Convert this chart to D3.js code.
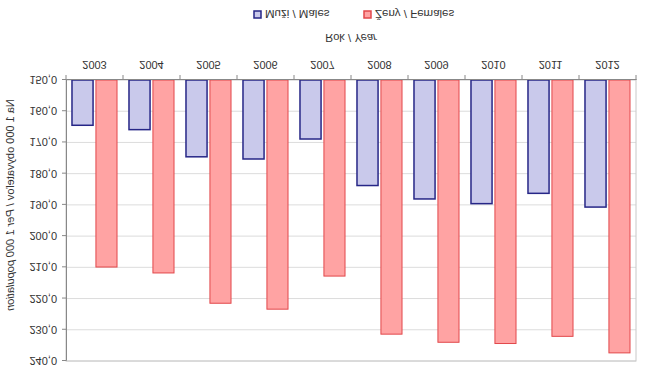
<!DOCTYPE html>
<html>
<head>
<meta charset="utf-8">
<script src="https://cdn.jsdelivr.net/npm/d3@7"></script>
<style>
	body { margin: 0; background: #fff; }
	/* the reference picture is mirrored top to bottom */
	#chart { transform: scaleY(-1); display: block; }
	text { font-family: "Liberation Sans", Arial, sans-serif; fill: #333; }
</style>
</head>
<body>
<svg id="chart" width="666" height="373"></svg>
<script>
var years = ["2003", "2004", "2005", "2006", "2007", "2008", "2009", "2010", "2011", "2012"];
var males = [164.5, 165.9, 174.6, 175.3, 168.9, 183.8, 188.1, 189.6, 186.3, 190.7];
var females = [209.9, 211.8, 221.5, 223.4, 212.8, 231.4, 234.0, 234.4, 232.1, 237.4];
var seriesKeys = ["m", "f"];
var seriesLabels = ["Muži / Males", "Ženy / Females"];
var yTicks = d3.range(150, 241, 10);

var width = 666, height = 373;
var margin = {top: 12, right: 30, bottom: 80, left: 66};

var svg = d3.select("#chart");

var x0 = d3.scaleBand()
	.domain(years)
	.range([margin.left, width - margin.right]);

var x1 = d3.scaleBand()
	.domain(seriesKeys)
	.range([0, x0.bandwidth()])
	.paddingInner(0.12)
	.paddingOuter(0.25);

var y = d3.scaleLinear()
	.domain([150, 240])
	.range([height - margin.bottom, margin.top]);

var fills = {m: "#c9c9eb", f: "#ffa3a3"};
var strokes = {m: "#262687", f: "#e2474a"};

//Gridlines
svg.append("g")
	.selectAll("line")
	.data(yTicks.slice(1))
	.enter().append("line")
	.attr("x1", margin.left)
	.attr("x2", width - margin.right)
	.attr("y1", function(d){ return y(d); })
	.attr("y2", function(d){ return y(d); })
	.attr("stroke", "#dcdcdc")
	.attr("stroke-width", 1);

//Plot border
svg.append("rect")
	.attr("x", margin.left)
	.attr("y", margin.top)
	.attr("width", width - margin.left - margin.right)
	.attr("height", height - margin.top - margin.bottom)
	.attr("fill", "none")
	.attr("stroke", "#c8c8c8");

//Bars
var rows = years.map(function(yr, i){
	return {year: yr, m: males[i], f: females[i]};
});

var groups = svg.append("g")
	.selectAll("g")
	.data(rows)
	.enter().append("g")
	.attr("transform", function(d){ return "translate(" + x0(d.year) + ",0)"; });

groups.selectAll("rect")
	.data(function(d){ return seriesKeys.map(function(k){ return {key: k, val: d[k]}; }); })
	.enter().append("rect")
	.attr("x", function(d){ return x1(d.key); })
	.attr("y", function(d){ return y(d.val); })
	.attr("width", x1.bandwidth())
	.attr("height", function(d){ return y(150) - y(d.val); })
	.attr("fill", function(d){ return fills[d.key]; })
	.attr("stroke", function(d){ return strokes[d.key]; })
	.attr("stroke-width", function(d){ return d.key == "m" ? 1.5 : 1; });

//Axes
var yAxis = d3.axisLeft(y)
	.tickValues(yTicks)
	.tickSize(4)
	.tickPadding(5)
	.tickFormat(function(d){ return d3.format(".1f")(d).replace(".", ","); });

var gy = svg.append("g")
	.attr("transform", "translate(" + margin.left + ",0)")
	.call(yAxis);

var xAxis = d3.axisBottom(x0)
	.tickSize(0)
	.tickPadding(11);

var gx = svg.append("g")
	.attr("transform", "translate(0," + y(150) + ")")
	.call(xAxis);

//Category separator ticks
gx.append("g")
	.selectAll("line")
	.data(years.concat(["end"]))
	.enter().append("line")
	.attr("x1", function(d, i){ return margin.left + i * x0.step(); })
	.attr("x2", function(d, i){ return margin.left + i * x0.step(); })
	.attr("y1", 0)
	.attr("y2", 5)
	.attr("stroke", "#888");

[gx, gy].forEach(function(g){
	g.select(".domain").attr("stroke", "#888");
	g.selectAll(".tick line").attr("stroke", "#888");
	g.selectAll("text")
		.style("font-family", "'Liberation Sans', Arial, sans-serif")
		.style("font-size", "11px")
		.attr("fill", "#333");
});

//Axis titles
var xTitle = svg.append("text")
	.attr("text-anchor", "middle")
	.attr("x", (margin.left + width - margin.right) / 2)
	.attr("y", 339)
	.style("font-size", "11px");
xTitle.append("tspan").text("Rok / ");
xTitle.append("tspan").style("font-style", "italic").text("Year");

var yTitle = svg.append("text")
	.attr("text-anchor", "middle")
	.attr("transform", "translate(14," + 168 + ")rotate(-90)")
	.style("font-size", "11px");
yTitle.append("tspan").text("Na 1 000 obyvateľov / ");
yTitle.append("tspan").style("font-style", "italic").text("Per 1 000 population");

//Legend
var legendX = [254, 364];
var legend = svg.append("g")
	.selectAll("g")
	.data(seriesKeys)
	.enter().append("g")
	.attr("transform", function(d, i){ return "translate(" + legendX[i] + ",359)"; });

legend.append("rect")
	.attr("x", 0)
	.attr("y", -4)
	.attr("width", 7)
	.attr("height", 7)
	.attr("fill", function(d){ return fills[d]; })
	.attr("stroke", function(d){ return strokes[d]; })
	.attr("stroke-width", 1.5);

legend.append("text")
	.attr("x", 11)
	.attr("y", 4)
	.style("font-size", "11.5px")
	.text(function(d, i){ return seriesLabels[i]; });
</script>
</body>
</html>
